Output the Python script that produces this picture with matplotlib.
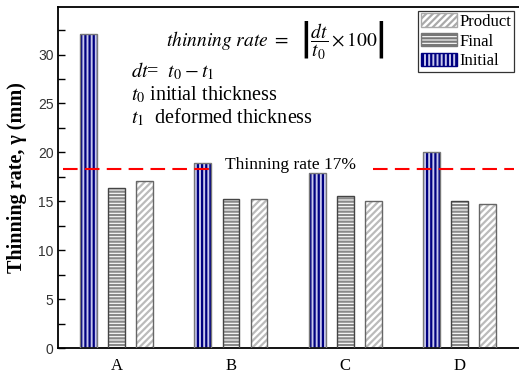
import numpy as np
import matplotlib
matplotlib.use('Agg')
import matplotlib.pyplot as plt
import matplotlib.patches as mpatches

plt.rcParams['font.family'] = ['Liberation Serif', 'DejaVu Serif']
plt.rcParams['mathtext.fontset'] = 'stix'

# data
groups = ['A', 'B', 'C', 'D']
initial = [32.1, 18.9, 17.9, 20.05]
final = [16.4, 15.2, 15.55, 15.05]
product = [17.1, 15.2, 15.05, 14.7]
threshold = 18.35
threshold_label = 'Thinning rate 17%'

fig = plt.figure(figsize=(5.19, 3.75), dpi=100)
ax = fig.add_axes([0.1123, 0.0712, 0.8877, 0.9088])

x = np.arange(len(groups))
w = 0.147
off = 0.246

plt.rcParams['hatch.linewidth'] = 1.6
ax.bar(x - off, initial, w, color='#c8c8ec', edgecolor='#000080', hatch='||||',
       linewidth=0, zorder=2)
ax.bar(x - off, initial, w, fill=False, edgecolor='#777777', linewidth=1.0, zorder=3)

ax.bar(x, final, w, color='white', edgecolor='#8a8a8a', hatch='-----',
       linewidth=0, zorder=2)
ax.bar(x, final, w, fill=False, edgecolor='#444444', linewidth=1.0, zorder=3)

ax.bar(x + off, product, w, color='white', edgecolor='#bbbbbb', hatch='/////',
       linewidth=0, zorder=2)
ax.bar(x + off, product, w, fill=False, edgecolor='#666666', linewidth=1.0, zorder=3)

# legend proxies
h_prod = mpatches.Patch(facecolor='white', edgecolor='#aaaaaa', hatch='/////', linewidth=1.0)
h_fin = mpatches.Patch(facecolor='white', edgecolor='#777777', hatch='-----', linewidth=1.0)
h_ini = mpatches.Patch(facecolor='#c8c8ec', edgecolor='#000080', hatch='||||', linewidth=1.0)
leg = ax.legend([h_prod, h_fin, h_ini], ['Product', 'Final', 'Initial'],
                loc='upper right', bbox_to_anchor=(0.993, 0.995), fontsize=12,
                fancybox=False, framealpha=1, edgecolor='#333333',
                handlelength=2.2, handleheight=0.85, handletextpad=0.15,
                labelspacing=0.2, borderpad=0.15, borderaxespad=0.1)
leg.get_frame().set_linewidth(0.9)

# threshold line, broken around its label
dash = dict(color='#ff0000', linestyle=(0, (7, 3.5)), linewidth=1.5, zorder=4)
ax.axhline(threshold, xmin=0.01, xmax=0.333, **dash)
ax.axhline(threshold, xmin=0.683, xmax=0.99, **dash)
ax.text(0.945, threshold + 0.4, threshold_label, fontsize=12.5, ha='left', va='center',
        zorder=5)

# formula annotations
ax.text(0.471, 0.905, r'$thinning\ rate\ =\ \ \left|\dfrac{dt}{t_0}\times 100\right|$',
        transform=ax.transAxes, fontsize=14, ha='center', va='center')
ax.text(0.158, 0.811, r'$dt$= $\ t_0-t_1$', transform=ax.transAxes, fontsize=14.5, va='center')
ax.text(0.158, 0.742, r'$t_0$ initial thickness', transform=ax.transAxes, fontsize=14.5,
        va='center')
ax.text(0.158, 0.677, r'$t_1$  deformed thickness', transform=ax.transAxes, fontsize=14.5,
        va='center')

ax.set_xlim(-0.51, 3.52)
ax.set_ylim(0, 34.8)
ax.set_xticks(x)
ax.set_xticklabels(groups, fontsize=12)
ax.tick_params(axis='x', length=0, pad=7)
ax.set_yticks([0, 5, 10, 15, 20, 25, 30])
ax.set_yticks(np.arange(2.5, 34, 5), minor=True)
ax.tick_params(axis='y', which='both', direction='in', length=5, width=1, labelsize=10,
               labelcolor='#333333')
for lab in ax.get_yticklabels():
    lab.set_family(['Liberation Sans', 'DejaVu Sans'])
ax.set_ylabel('Thinning rate, γ (mm)', fontsize=14.5, fontweight='bold', labelpad=8)

ax.spines['right'].set_visible(False)
for s in ['left', 'bottom', 'top']:
    ax.spines[s].set_linewidth(1.3)

fig.savefig('out.png', dpi=100)
